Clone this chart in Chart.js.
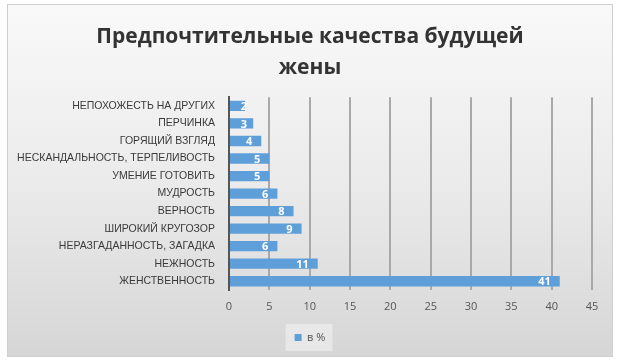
<!DOCTYPE html>
<html lang="ru">
<head>
<meta charset="utf-8">
<title>Предпочтительные качества будущей жены</title>
<script src="https://cdn.jsdelivr.net/npm/chart.js@4.4.1/dist/chart.umd.min.js"></script>
<style>
  html, body { margin: 0; padding: 0; background: #fff; }
  #wrap { width: 620px; height: 364px; position: relative; }
</style>
</head>
<body>
<div id="wrap"><canvas id="chart"></canvas></div>
<script>
const categories = [
    'НЕПОХОЖЕСТЬ НА ДРУГИХ',
    'ПЕРЧИНКА',
    'ГОРЯЩИЙ ВЗГЛЯД',
    'НЕСКАНДАЛЬНОСТЬ, ТЕРПЕЛИВОСТЬ',
    'УМЕНИЕ ГОТОВИТЬ',
    'МУДРОСТЬ',
    'ВЕРНОСТЬ',
    'ШИРОКИЙ КРУГОЗОР',
    'НЕРАЗГАДАННОСТЬ, ЗАГАДКА',
    'НЕЖНОСТЬ',
    'ЖЕНСТВЕННОСТЬ'
];
const percentValues = [2, 3, 4, 5, 5, 6, 8, 9, 6, 11, 41];
const seriesName = 'в %';
const titleLines = ['Предпочтительные качества будущей', 'жены'];
const xMin = 0;
const xMax = 45;
const xStep = 5;

const barColor = '#5e9fd9';

// frame with grey gradient, plus the slightly lighter legend box
const frameBackground = {
    id: 'frameBackground',
    afterLayout(chart) {
        // center title and legend on the whole frame, not on the plot
        [chart.titleBlock, chart.legend].forEach(b => {
            if (b) { b.left = 0; b.right = chart.width; b.width = chart.width; }
        });
    },
    beforeDraw(chart) {
        const { ctx, width, height } = chart;
        ctx.save();
        ctx.fillStyle = '#ffffff';
        ctx.fillRect(0, 0, width, height);
        const g = ctx.createLinearGradient(0, 4, 0, 357);
        g.addColorStop(0, '#f9f9f9');
        g.addColorStop(0.5, '#ebebeb');
        g.addColorStop(1, '#d6d6d6');
        ctx.fillStyle = g;
        ctx.fillRect(7, 4, 606, 353);
        ctx.strokeStyle = '#cfcfcf';
        ctx.lineWidth = 1;
        ctx.strokeRect(7.5, 4.5, 605, 352);

        const lg = chart.legend;
        if (lg && lg.legendHitBoxes && lg.legendHitBoxes.length) {
            const hb = lg.legendHitBoxes[0];
            ctx.fillStyle = 'rgba(255,255,255,0.4)';
            ctx.fillRect(hb.left - 9, hb.top - 8, hb.width + 16, hb.height + 16);
        }
        ctx.restore();
    }
};

// white value labels placed inside the end of each bar
const barValueLabels = {
    id: 'barValueLabels',
    afterDatasetsDraw(chart) {
        const { ctx } = chart;
        const meta = chart.getDatasetMeta(0);
        ctx.save();
        ctx.font = 'bold 11px "Open Sans", sans-serif';
        ctx.fillStyle = '#ffffff';
        ctx.textAlign = 'right';
        ctx.textBaseline = 'middle';
        meta.data.forEach((bar, i) => {
            const x = Math.max(bar.x - 9, bar.base + 17);
            ctx.fillText(String(chart.data.datasets[0].data[i]), x, bar.y + 1);
        });
        ctx.restore();
    }
};

new Chart(document.getElementById('chart'), {
    type: 'bar',
    data: {
        labels: categories,
        datasets: [{
            label: seriesName,
            data: percentValues,
            backgroundColor: barColor,
            borderWidth: 0,
            barPercentage: 0.62,
            categoryPercentage: 0.95
        }]
    },
    options: {
        indexAxis: 'y',
        responsive: true,
        maintainAspectRatio: false,
        animation: false,
        devicePixelRatio: 1,
        layout: { padding: { top: 4, right: 28, bottom: 11, left: 0 } },
        scales: {
            x: {
                min: xMin, max: xMax,
                afterFit: (s) => { s.height = 32; },
                ticks: { stepSize: xStep, color: '#555', padding: 10,
                         font: { family: '"Open Sans", sans-serif', size: 11 } },
                grid: { color: (c) => c.index === 0 ? 'rgba(0,0,0,0)' : '#a9a9a9',
                        lineWidth: 2, drawTicks: false },
                border: { display: false }
            },
            y: {
                afterFit: (s) => { s.width = 229; },
                ticks: { color: '#3a3a3a', padding: 14, autoSkip: false,
                         font: { family: '"Liberation Sans", sans-serif', size: 10.5 } },
                grid: { display: false, drawTicks: false },
                border: { display: true, color: '#555', width: 2 }
            }
        },
        plugins: {
            title: {
                display: true,
                text: titleLines,
                color: '#333333',
                font: { family: '"Open Sans", sans-serif', size: 21, weight: 'bold', lineHeight: 1.48 },
                padding: { top: 17, bottom: 14 }
            },
            legend: {
                position: 'bottom',
                labels: {
                    boxWidth: 7, boxHeight: 7, color: '#555',
                    font: { family: '"Open Sans", sans-serif', size: 11 },
                    padding: 10
                }
            },
            tooltip: { enabled: false }
        }
    },
    plugins: [frameBackground, barValueLabels]
});
</script>
</body>
</html>
